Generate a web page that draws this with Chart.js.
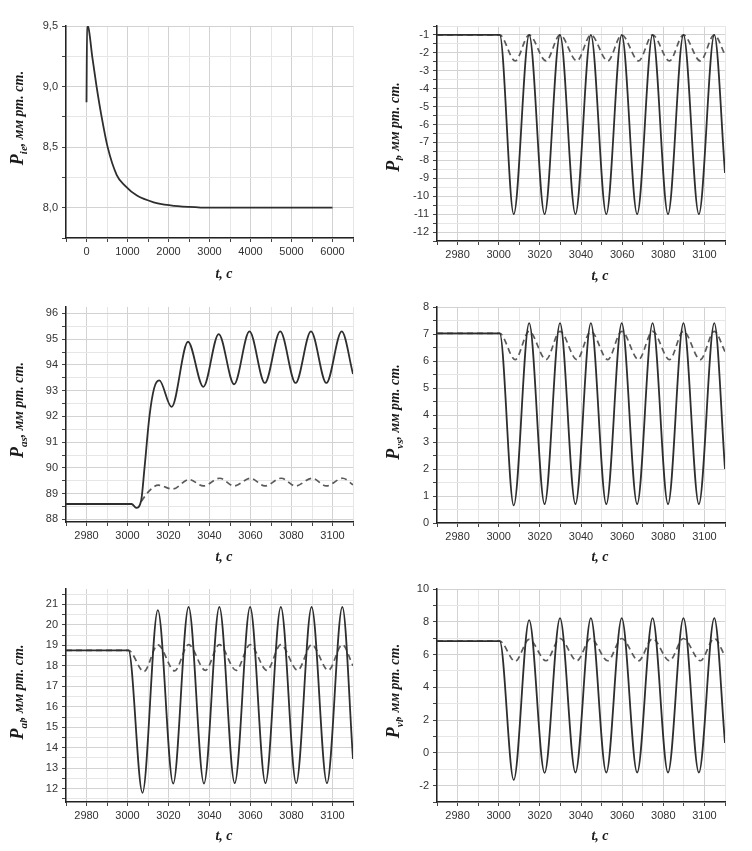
<!DOCTYPE html>
<html>
<head>
<meta charset="utf-8">
<script src="https://cdn.jsdelivr.net/npm/chart.js@4.4.0/dist/chart.umd.min.js"></script>
<style>
  body { margin: 0; background: #fff; width: 752px; height: 851px; overflow: hidden; position: relative; }
  canvas { position: absolute; }
</style>
</head>
<body>
<canvas id="c1" width="376" height="300" style="left:0;top:0"></canvas>
<canvas id="c2" width="376" height="300" style="left:376px;top:0"></canvas>
<canvas id="c3" width="376" height="300" style="left:0;top:280px"></canvas>
<canvas id="c4" width="376" height="300" style="left:376px;top:280px"></canvas>
<canvas id="c5" width="376" height="300" style="left:0;top:560px"></canvas>
<canvas id="c6" width="376" height="300" style="left:376px;top:560px"></canvas>
<script>
// P_ie : transient after start (t, c)
var ieT = [0, 15, 45, 139, 246, 369, 516, 738, 943, 1230, 1640, 2050, 2500, 3000, 4000, 5000, 6000];
var ieP = [8.87, 9.5, 9.49, 9.25, 9.0, 8.75, 8.5, 8.27, 8.18, 8.1, 8.045, 8.02, 8.007, 8.0, 8.0, 8.0, 8.0];

// time points of the oscillating panels (peaks / troughs)
var tOsc = [2970, 3000.5, 3007.3, 3014.8, 3022.3, 3029.8, 3037.3, 3044.8, 3052.3, 3059.8, 3067.3, 3074.8, 3082.3, 3089.8, 3097.3, 3104.8, 3110];
var tOscDash = [2970, 3000.5, 3008, 3014.8, 3023, 3029.8, 3038, 3044.8, 3053, 3059.8, 3068, 3074.8, 3083, 3089.8, 3098, 3104.8, 3110];

// P_l
var lSolid = [-1, -1, -11, -1, -11, -1, -11, -1, -11, -1, -11, -1, -11, -1, -11, -1, -8.7];
var lDash = [-1, -1, -2.45, -1, -2.45, -1, -2.45, -1, -2.45, -1, -2.45, -1, -2.45, -1, -2.45, -1, -2.1];

// P_as
var asT = [2970, 3002, 3004.3, 3006.7, 3008.3, 3010.7, 3013, 3015.5, 3021.5, 3029.5, 3037, 3044.5, 3052, 3059.5, 3067, 3074.5, 3082, 3089.5, 3097, 3104.5, 3110];
var asSolid = [88.6, 88.6, 88.45, 88.75, 90.0, 92.0, 93.1, 93.4, 92.37, 94.9, 93.15, 95.2, 93.25, 95.3, 93.3, 95.3, 93.3, 95.3, 93.3, 95.3, 93.65];
var asDashT = [3006.7, 3010.5, 3015, 3022, 3030, 3037, 3045, 3052, 3060, 3067, 3075, 3082, 3090, 3097, 3105, 3110];
var asDash = [88.7, 89.1, 89.33, 89.18, 89.55, 89.3, 89.6, 89.3, 89.6, 89.3, 89.6, 89.3, 89.6, 89.3, 89.6, 89.35];

// P_vs
var vsSolid = [7.02, 7.02, 0.65, 7.4, 0.7, 7.4, 0.7, 7.4, 0.7, 7.4, 0.7, 7.4, 0.7, 7.4, 0.7, 7.4, 2.0];
var vsDash = [7.02, 7.02, 6.05, 7.1, 6.05, 7.1, 6.05, 7.1, 6.05, 7.1, 6.05, 7.1, 6.05, 7.1, 6.05, 7.1, 6.35];

// P_al
var alSolid = [18.75, 18.75, 11.8, 20.72, 12.25, 20.87, 12.25, 20.87, 12.27, 20.87, 12.27, 20.87, 12.27, 20.87, 12.27, 20.87, 13.45];
var alDash = [18.75, 18.75, 17.72, 19.02, 17.75, 19.03, 17.78, 19.03, 17.78, 19.03, 17.78, 19.03, 17.78, 19.03, 17.78, 19.03, 18.0];

// P_vl
var vlSolid = [6.82, 6.82, -1.65, 8.1, -1.22, 8.22, -1.2, 8.22, -1.2, 8.22, -1.2, 8.22, -1.2, 8.22, -1.2, 8.22, 0.6];
var vlDash = [6.82, 6.82, 5.58, 6.92, 5.62, 6.98, 5.62, 6.98, 5.62, 6.98, 5.62, 6.98, 5.62, 6.98, 5.62, 6.98, 5.9];

var units = ', мм рт. ст.';

function pts(xs, ys) {
	return xs.map(function(x, i) { return {x: x, y: ys[i]}; });
}
function isMult(v, s) {
	return Math.abs(v / s - Math.round(v / s)) < 1e-6;
}

// draws "t, c" and the rotated P_xx title with subscript
var axisTitles = {
	id: 'axisTitles',
	afterDraw: function(chart, args, o) {
		var ctx = chart.ctx;
		ctx.save();
		ctx.fillStyle = '#1a1a1a';
		ctx.textBaseline = 'alphabetic';
		ctx.font = 'italic bold 14px "Liberation Serif"';
		ctx.textAlign = 'center';
		ctx.fillText('t, c', 224, o.xTitleY);

		ctx.translate(18, o.yTitleY);
		ctx.rotate(-Math.PI / 2);
		ctx.textAlign = 'left';
		var fP = 'italic bold 18px "Liberation Serif"';
		var fS = 'italic bold 11px "Liberation Serif"';
		var fU = 'italic bold 14px "Liberation Serif"';
		ctx.font = fP; var wP = ctx.measureText('P').width;
		ctx.font = fS; var wS = ctx.measureText(o.sub).width;
		ctx.font = fU; var wU = ctx.measureText(units).width;
		var x0 = -(wP + wS + wU) / 2;
		ctx.font = fP; ctx.fillText('P', x0, 5);
		ctx.font = fS; ctx.fillText(o.sub, x0 + wP, 9);
		ctx.font = fU; ctx.fillText(units, x0 + wP + wS, 5);
		ctx.restore();
	}
};

function makeChart(id, p) {
	var datasets = [{
		data: pts(p.solidT, p.solid),
		borderColor: '#2e2e2e',
		borderWidth: 1.8,
		pointRadius: 0,
		cubicInterpolationMode: 'monotone'
	}];
	if (p.dash) {
		datasets.push({
			data: pts(p.dashT, p.dash),
			borderColor: '#5a5a5a',
			borderWidth: 1.7,
			borderDash: [6, 4],
			pointRadius: 0,
			cubicInterpolationMode: 'monotone'
		});
	}
	var tickFont = {family: '"Liberation Sans", Arial, sans-serif', size: 11};
	return new Chart(document.getElementById(id), {
		type: 'line',
		data: {datasets: datasets},
		plugins: [axisTitles],
		options: {
			responsive: false,
			animation: false,
			layout: {padding: {left: 0, top: p.T, right: 376 - p.R, bottom: 300 - p.cellH}},
			plugins: {
				legend: {display: false},
				tooltip: {enabled: false},
				axisTitles: {sub: p.sub, xTitleY: p.xTitleY, yTitleY: p.yTitleY}
			},
			scales: {
				x: {
					type: 'linear',
					min: p.xMin, max: p.xMax,
					afterFit: function(s) { s.height = p.cellH - p.B; },
					border: {color: '#222', width: 1.5},
					grid: {
						color: function(c) { return c.tick && isMult(c.tick.value, p.xLab) ? '#d2d2d2' : '#e6e6e6'; },
						tickColor: '#444', tickLength: 4
					},
					ticks: {
						stepSize: p.xStep, autoSkip: false, includeBounds: false, maxRotation: 0, minRotation: 0,
						padding: 3, color: '#333', font: tickFont,
						callback: function(v) { return isMult(v, p.xLab) ? String(Math.round(v)) : ''; }
					}
				},
				y: {
					min: p.yMin, max: p.yMax,
					afterFit: function(s) { s.width = p.L; },
					border: {color: '#222', width: 1.5},
					grid: {
						color: function(c) { return c.tick && isMult(c.tick.value, p.yLab) ? '#d2d2d2' : '#e6e6e6'; },
						tickColor: '#444', tickLength: 4
					},
					ticks: {
						stepSize: p.yStep, autoSkip: false, includeBounds: false, padding: 4, color: '#333', font: tickFont,
						callback: function(v) {
							if (!isMult(v, p.yLab)) return '';
							return p.comma ? v.toFixed(1).replace('.', ',') : String(Math.round(v));
						}
					}
				}
			}
		}
	});
}

makeChart('c1', {solidT: ieT, solid: ieP, sub: 'ie', L: 66, R: 353, T: 26, B: 238, cellH: 280,
	xMin: -500, xMax: 6500, xStep: 500, xLab: 1000, yMin: 7.75, yMax: 9.5, yStep: 0.25, yLab: 0.5, comma: true,
	xTitleY: 278, yTitleY: 118});
makeChart('c2', {solidT: tOsc, solid: lSolid, dashT: tOscDash, dash: lDash, sub: 'l', L: 61, R: 349, T: 26, B: 241, cellH: 280,
	xMin: 2970, xMax: 3110, xStep: 10, xLab: 20, yMin: -12.5, yMax: -0.5, yStep: 0.5, yLab: 1,
	xTitleY: 280, yTitleY: 127});
makeChart('c3', {solidT: asT, solid: asSolid, dashT: asDashT, dash: asDash, sub: 'as', L: 66, R: 353, T: 27, B: 242, cellH: 280,
	xMin: 2970, xMax: 3110, xStep: 10, xLab: 20, yMin: 87.9, yMax: 96.25, yStep: 0.5, yLab: 1,
	xTitleY: 281, yTitleY: 130});
makeChart('c4', {solidT: tOsc, solid: vsSolid, dashT: tOscDash, dash: vsDash, sub: 'vs', L: 61, R: 349, T: 27, B: 243, cellH: 280,
	xMin: 2970, xMax: 3110, xStep: 10, xLab: 20, yMin: 0, yMax: 8, yStep: 0.5, yLab: 1,
	xTitleY: 281, yTitleY: 132});
makeChart('c5', {solidT: tOsc, solid: alSolid, dashT: tOscDash, dash: alDash, sub: 'al', L: 66, R: 353, T: 29, B: 242, cellH: 291,
	xMin: 2970, xMax: 3110, xStep: 10, xLab: 20, yMin: 11.35, yMax: 21.75, yStep: 0.5, yLab: 1,
	xTitleY: 280, yTitleY: 132});
makeChart('c6', {solidT: tOsc, solid: vlSolid, dashT: tOscDash, dash: vlDash, sub: 'vl', L: 61, R: 349, T: 29, B: 242, cellH: 291,
	xMin: 2970, xMax: 3110, xStep: 10, xLab: 20, yMin: -3, yMax: 10, yStep: 1, yLab: 2,
	xTitleY: 280, yTitleY: 131});
</script>
</body>
</html>
